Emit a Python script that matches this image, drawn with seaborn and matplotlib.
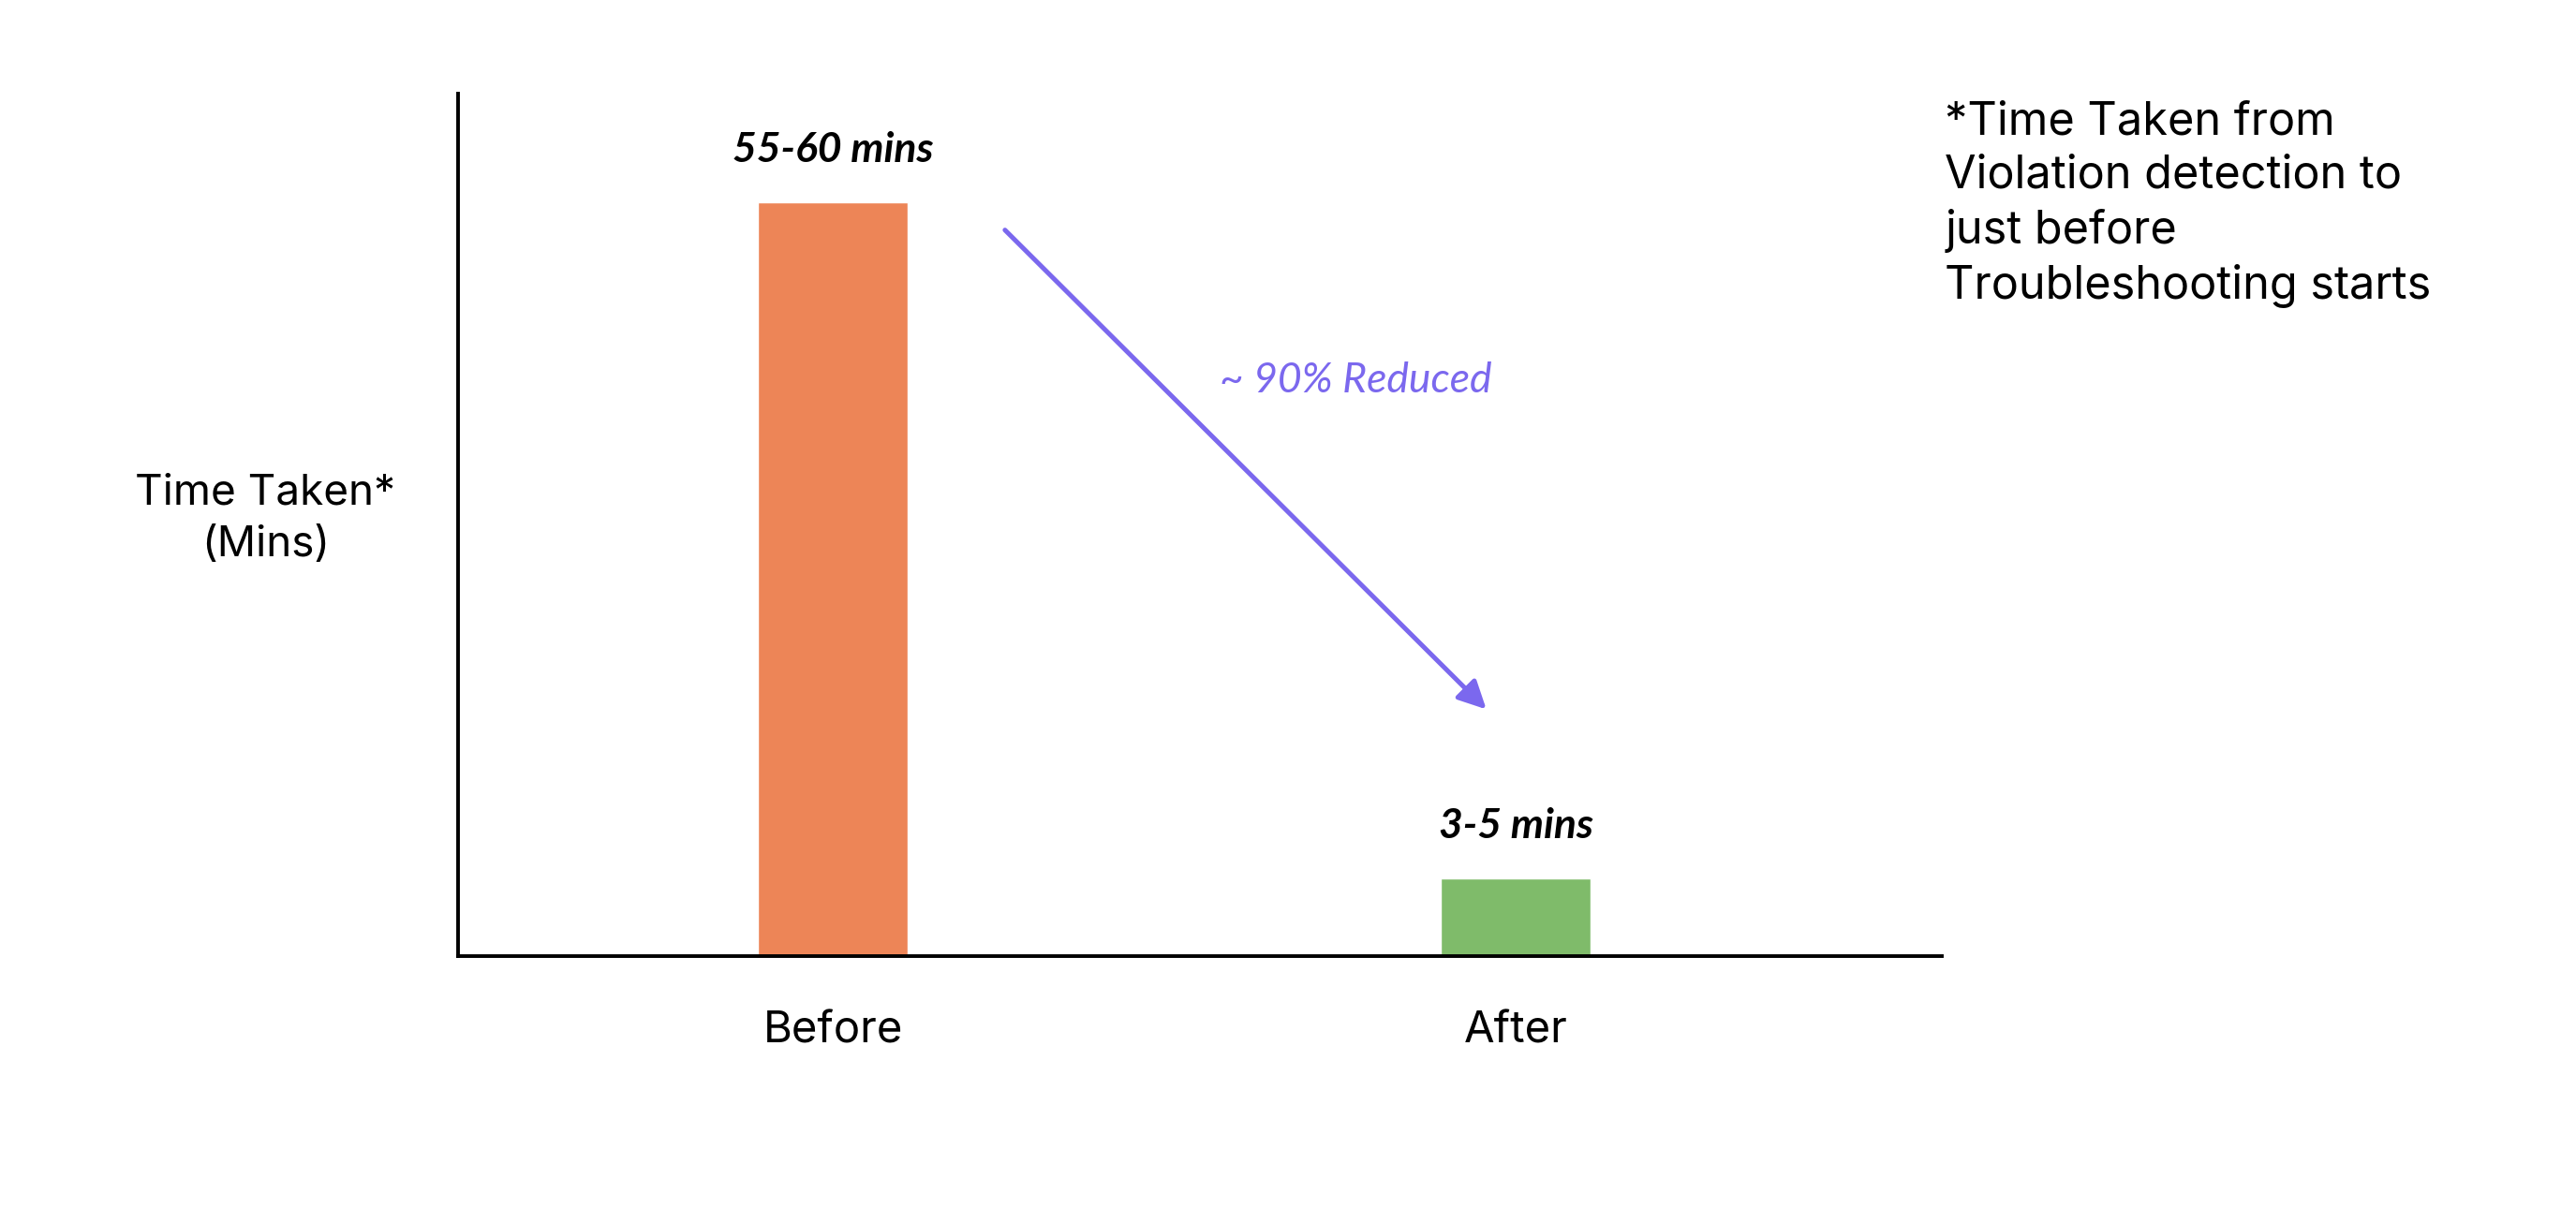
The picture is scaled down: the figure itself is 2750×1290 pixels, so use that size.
import numpy as np
import pandas as pd
import matplotlib
matplotlib.use("Agg")
import matplotlib.pyplot as plt
import seaborn as sns

# data
stages = ["Before", "After"]
minutes = [58, 6]
bar_labels = ["55-60 mins", "3-5 mins"]
bar_colors = ["#ED8557", "#7FBB6A"]

reduction_text = "~ 90% Reduced"
ylabel_text = "Time Taken*\n(Mins)"
footnote = "*Time Taken from\nViolation detection to\njust before\nTroubleshooting starts"

sns.set_theme(style="white")
plt.rcParams['font.family'] = ['Inter', 'DejaVu Sans']
plt.rcParams['text.color'] = 'black'

df = pd.DataFrame({'stage': stages, 'minutes': minutes})

fig = plt.figure(figsize=(27.5, 12.9), dpi=100)
ax = fig.add_axes([0.1778, 0.2085, 0.576, 0.714])

sns.barplot(data=df, x='stage', y='minutes', hue='stage', palette=bar_colors,
            width=0.22, saturation=1, legend=False, ax=ax)

ax.set_xlim(-0.549, 1.624)
ax.set_ylim(0, 66.4)

# handwritten-ish labels above bars
for cont, lab in zip(ax.containers, bar_labels):
    ax.bar_label(cont, labels=[lab], padding=26, fontsize=32, color='black',
                 fontstyle='italic', fontweight='bold', family=['Lato', 'DejaVu Sans'])

# arrow showing the drop
ax.annotate("", xy=(0.957, 19.0), xytext=(0.252, 55.9),
            arrowprops=dict(arrowstyle='-|>', color='#7B68EE', lw=3.6,
                            mutation_scale=45, shrinkA=0, shrinkB=0))
ax.text(0.766, 44.3, reduction_text, color='#7B68EE', fontsize=32,
        fontstyle='italic', family=['Lato', 'DejaVu Sans'], ha='center', va='center')

# spines / ticks
for s in ['top', 'right']:
    ax.spines[s].set_visible(False)
for s in ['left', 'bottom']:
    ax.spines[s].set_color('black')
    ax.spines[s].set_linewidth(2.8)
ax.set_yticks([])
ax.tick_params(axis='x', length=0, pad=42, labelsize=34, labelcolor='black')
ax.set_xlabel('')
ax.set_ylabel('')

fig.text(0.103, 0.5705, ylabel_text, ha='center', va='center', fontsize=33,
         linespacing=1.42, color='black')
fig.text(0.755, 0.917, footnote, ha='left', va='top', fontsize=35,
         linespacing=1.33, color='black')

fig.savefig('out.png', dpi=100, facecolor='white')
